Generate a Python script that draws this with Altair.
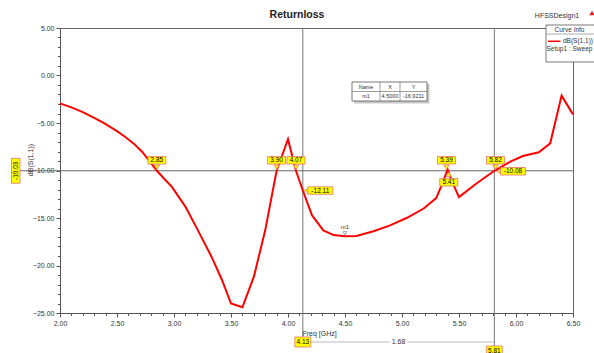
import altair as alt
import pandas as pd

FONT = "Liberation Sans"
YEL = "#ffff00"
BRD = "#e8736b"

# ---------------- data ----------------
freq = [2.00, 2.10, 2.19, 2.30, 2.39, 2.50, 2.57, 2.65, 2.72, 2.80,
        2.85, 2.92, 2.98, 3.10, 3.21, 3.33, 3.42, 3.50, 3.60, 3.70,
        3.80, 3.90, 4.00, 4.07, 4.13, 4.21, 4.31, 4.40, 4.50, 4.60,
        4.75, 4.89, 5.04, 5.19, 5.30, 5.35, 5.40, 5.44, 5.50, 5.65,
        5.81, 5.95, 6.06, 6.20, 6.30, 6.40, 6.50]
s11 = [-2.93, -3.35, -3.81, -4.45, -5.03, -5.85, -6.44, -7.2, -8.02, -9.25,
       -10.03, -10.95, -11.7, -13.8, -16.3, -19.1, -21.5, -24.0, -24.4, -21.2,
       -16.3, -10.03, -6.7, -10.03, -12.11, -14.7, -16.3, -16.8, -16.92, -16.9,
       -16.4, -15.8, -15.0, -14.0, -12.9, -11.5, -9.88, -11.2, -12.8, -11.4,
       -10.03, -9.07, -8.47, -8.08, -7.14, -2.12, -4.09]

ref_level = -10.03
cross_f = [2.85, 3.90, 4.07, 5.39, 5.82]
cross_lbl = ["2.85", "3.90", "4.07", "5.39", "5.82"]
below_f = [5.41]
below_lbl = ["5.41"]
side_f = [4.13, 5.82]
side_db = [-12.11, -10.08]
side_lbl = ["-12.11", "-10.08"]
m1_f = [4.5]
m1_db = [-16.9211]
xmark_f = [4.13, 5.81]
xmark_lbl = ["4.13", "5.81"]

x_ticks = [round(2.0 + 0.1 * i, 1) for i in range(46)]
y_ticks = list(range(-25, 6))

table_head = ["Name", "X", "Y"]
table_row = ["m1", "4.5000", "-16.9211"]

# ---------------- scales & axes ----------------
xs = alt.Scale(domain=[2.0, 6.5], nice=False, zero=False)
ys = alt.Scale(domain=[-25, 5], nice=False, zero=False)

maj_x = "abs(datum.value*2 - round(datum.value*2)) < 0.001"
maj_y = "abs(datum.value % 5) < 0.001"

common_axis = dict(labelFontSize=7, labelFont=FONT, labelColor="#333",
                   tickColor="#555", domainColor="#555", labelFlush=False,
                   labelOverlap=False, grid=False, titleFontSize=7,
                   titleFontWeight="normal", titleFont=FONT, titleColor="#333")

x_axis = alt.Axis(values=x_ticks, title="Freq [GHz]",
                  labelExpr=f"{maj_x} ? format(datum.value, '.2f') : ''",
                  tickSize={"condition": {"test": maj_x, "value": 4}, "value": 2.5},
                  titleX=242, titleY=20, titleAlign="left", titleBaseline="middle",
                  **common_axis)
y_axis = alt.Axis(values=y_ticks, title=None,
                  labelExpr=f"{maj_y} ? format(datum.value, '.2f') : ''",
                  tickSize={"condition": {"test": maj_y, "value": 4}, "value": 2.5},
                  **common_axis)

X = alt.X("f:Q", scale=xs, axis=x_axis)
Y = alt.Y("db:Q", scale=ys, axis=y_axis)

one = pd.DataFrame({"k": [0]})

layers = []

# horizontal marker line
layers.append(alt.Chart(pd.DataFrame({"db": [ref_level]})).mark_rule(
    color="#666", strokeWidth=1).encode(y=Y, x=alt.value(-40), x2=alt.value(513)))

# vertical marker lines
layers.append(alt.Chart(pd.DataFrame({"f": xmark_f})).mark_rule(
    color="#777", strokeWidth=1).encode(x=X, y=alt.value(0), y2=alt.value(318)))

# delta line at bottom
layers.append(alt.Chart(pd.DataFrame({"f": [xmark_f[0]], "f2": [xmark_f[1]]})).mark_rule(
    color="#bbbbbb", strokeWidth=1).encode(x=X, x2="f2:Q", y=alt.value(314)))
delta_df = pd.DataFrame({"f": [(xmark_f[0] + xmark_f[1]) / 2],
                         "lbl": [f"{xmark_f[1] - xmark_f[0]:.2f}"]})
layers.append(alt.Chart(delta_df).mark_rect(width=18, height=9, fill="white").encode(
    x=X, y=alt.value(309.5), y2=alt.value(318.5)))
layers.append(alt.Chart(delta_df).mark_text(fontSize=7, font=FONT, color="#333",
                                            baseline="middle").encode(
    x=X, y=alt.value(314), text="lbl:N"))

# curve
curve_df = pd.DataFrame({"f": freq, "db": s11})
layers.append(alt.Chart(curve_df).mark_line(color="#ff0000", strokeWidth=2).encode(x=X, y=Y))

# crossing markers (box above)
cross_df = pd.DataFrame({"f": cross_f, "db": [ref_level] * len(cross_f), "lbl": cross_lbl})
layers.append(alt.Chart(cross_df).mark_point(shape="triangle-down", filled=True, fill=YEL,
                                             stroke=BRD, strokeWidth=0.8, size=28,
                                             yOffset=-3.5, opacity=1).encode(x=X, y=Y))
layers.append(alt.Chart(cross_df).mark_rect(width=18, height=7.5, yOffset=-10.5, fill=YEL,
                                            stroke=BRD, strokeWidth=0.8).encode(x=X, y=Y))
layers.append(alt.Chart(cross_df).mark_text(fontSize=6.5, font=FONT, color="black",
                                            yOffset=-10.5, baseline="middle").encode(
    x=X, y=Y, text="lbl:N"))

# crossing marker (box below)
below_df = pd.DataFrame({"f": below_f, "db": [ref_level] * len(below_f), "lbl": below_lbl})
layers.append(alt.Chart(below_df).mark_point(shape="triangle-up", filled=True, fill=YEL,
                                             stroke=BRD, strokeWidth=0.8, size=28,
                                             yOffset=3.5, opacity=1).encode(x=X, y=Y))
layers.append(alt.Chart(below_df).mark_rect(width=18, height=7.5, yOffset=11.5, fill=YEL,
                                            stroke=BRD, strokeWidth=0.8).encode(x=X, y=Y))
layers.append(alt.Chart(below_df).mark_text(fontSize=6.5, font=FONT, color="black",
                                            yOffset=11.5, baseline="middle").encode(
    x=X, y=Y, text="lbl:N"))

# side markers (Y value)
side_df = pd.DataFrame({"f": side_f, "db": side_db, "lbl": side_lbl})
layers.append(alt.Chart(side_df).mark_point(shape="triangle-left", filled=True, fill=YEL,
                                            stroke=BRD, strokeWidth=0.8, size=24,
                                            xOffset=3.5, opacity=1).encode(x=X, y=Y))
layers.append(alt.Chart(side_df).mark_rect(width=25, height=7.5, xOffset=17.5, fill=YEL,
                                           stroke=BRD, strokeWidth=0.8).encode(x=X, y=Y))
layers.append(alt.Chart(side_df).mark_text(fontSize=6.5, font=FONT, color="black",
                                           xOffset=17.5, baseline="middle").encode(
    x=X, y=Y, text="lbl:N"))

# m1 marker
m1_df = pd.DataFrame({"f": m1_f, "db": m1_db, "lbl": ["m1"]})
layers.append(alt.Chart(m1_df).mark_point(shape="triangle-down", filled=False,
                                          stroke="#444", strokeWidth=0.7, size=14,
                                          yOffset=-3).encode(x=X, y=Y))
layers.append(alt.Chart(m1_df).mark_text(fontSize=6, font=FONT, color="#333",
                                         yOffset=-9.5, baseline="middle").encode(
    x=X, y=Y, text="lbl:N"))

# y-axis title (as text)
layers.append(alt.Chart(pd.DataFrame({"t": ["dB(S(1,1))"]})).mark_text(
    fontSize=7, font=FONT, color="#333", angle=270, baseline="middle").encode(
    x=alt.value(-29), y=alt.value(132), text="t:N"))

# y-axis marker label
ylab_df = pd.DataFrame({"db": [ref_level], "lbl": [f"{ref_level:.2f}"]})
layers.append(alt.Chart(ylab_df).mark_rect(height=25, fill=YEL, stroke=BRD,
                                           strokeWidth=0.8).encode(
    y=Y, x=alt.value(-48.5), x2=alt.value(-40)))
layers.append(alt.Chart(ylab_df).mark_text(fontSize=6.5, font=FONT, color="black",
                                           angle=270, baseline="middle").encode(
    y=Y, x=alt.value(-44.2), text="lbl:N"))

# bottom x-marker labels
for fv, lb, yp in zip(xmark_f, xmark_lbl, [314, 323]):
    d = pd.DataFrame({"f": [fv], "lbl": [lb]})
    layers.append(alt.Chart(d).mark_rect(width=16, fill=YEL, stroke=BRD,
                                         strokeWidth=0.8).encode(
        x=X, y=alt.value(yp - 5), y2=alt.value(yp + 5)))
    layers.append(alt.Chart(d).mark_text(fontSize=6.5, font=FONT, color="black",
                                         baseline="middle").encode(
        x=X, y=alt.value(yp), text="lbl:N"))

# marker table
layers.append(alt.Chart(one).mark_rect(fill="#c8c8c8").encode(
    x=alt.value(294), x2=alt.value(369.5), y=alt.value(56), y2=alt.value(75.5)))
layers.append(alt.Chart(one).mark_rect(fill="white", stroke="#555", strokeWidth=0.8).encode(
    x=alt.value(292), x2=alt.value(367), y=alt.value(54), y2=alt.value(73)))
for xv in [320, 340]:
    layers.append(alt.Chart(one).mark_rule(color="#777", strokeWidth=0.7).encode(
        x=alt.value(xv), y=alt.value(54), y2=alt.value(73)))
layers.append(alt.Chart(one).mark_rule(color="#777", strokeWidth=0.7).encode(
    x=alt.value(292), x2=alt.value(367), y=alt.value(63.5)))
col_c = [306, 330, 353.5]
for cx, h, r in zip(col_c, table_head, table_row):
    layers.append(alt.Chart(pd.DataFrame({"t": [h]})).mark_text(
        fontSize=5.5, font=FONT, color="#333", baseline="middle").encode(
        x=alt.value(cx), y=alt.value(58.8), text="t:N"))
    layers.append(alt.Chart(pd.DataFrame({"t": [r]})).mark_text(
        fontSize=5.5, font=FONT, color="#333", baseline="middle").encode(
        x=alt.value(cx), y=alt.value(68.3), text="t:N"))

# Curve Info legend
layers.append(alt.Chart(one).mark_rect(fill="white", stroke="#555", strokeWidth=0.8).encode(
    x=alt.value(486), x2=alt.value(536), y=alt.value(-3), y2=alt.value(34)))
layers.append(alt.Chart(one).mark_rule(color="#888", strokeWidth=0.7).encode(
    x=alt.value(486), x2=alt.value(536), y=alt.value(6)))
layers.append(alt.Chart(one).mark_rule(color="#ff0000", strokeWidth=1.5).encode(
    x=alt.value(488), x2=alt.value(500.5), y=alt.value(13.3)))
layers.append(alt.Chart(pd.DataFrame({"t": ["Curve Info"]})).mark_text(
    fontSize=6.5, font=FONT, color="#333", baseline="middle").encode(
    x=alt.value(509.5), y=alt.value(1.5), text="t:N"))
layers.append(alt.Chart(pd.DataFrame({"t": ["dB(S(1,1))"]})).mark_text(
    fontSize=6.5, font=FONT, color="#333", baseline="middle", align="left").encode(
    x=alt.value(503), y=alt.value(13), text="t:N"))
layers.append(alt.Chart(pd.DataFrame({"t": ["Setup1 : Sweep"]})).mark_text(
    fontSize=6.5, font=FONT, color="#333", baseline="middle", align="left").encode(
    x=alt.value(486.5), y=alt.value(21), text="t:N"))

# design name, logo, title
layers.append(alt.Chart(pd.DataFrame({"t": ["HFSSDesign1"]})).mark_text(
    fontSize=7, font=FONT, color="#333", baseline="middle").encode(
    x=alt.value(497), y=alt.value(-12.3), text="t:N"))
layers.append(alt.Chart(one).mark_point(shape="triangle-up", filled=True, color="#dd2222",
                                        size=30, opacity=1).encode(
    x=alt.value(532), y=alt.value(-15)))
layers.append(alt.Chart(pd.DataFrame({"t": ["Returnloss"]})).mark_text(
    fontSize=10.5, font=FONT, fontWeight="bold", color="#222", baseline="middle").encode(
    x=alt.value(237), y=alt.value(-13), text="t:N"))

chart = alt.layer(*layers).properties(
    width=513, height=285,
    autosize=alt.AutoSizeParams(type="none"),
    padding={"left": 60, "top": 28, "right": 21, "bottom": 40},
    background="white",
).configure_view(stroke="#666", strokeWidth=1)

chart.save("out.html", embed_options={"renderer": "svg", "actions": False})
